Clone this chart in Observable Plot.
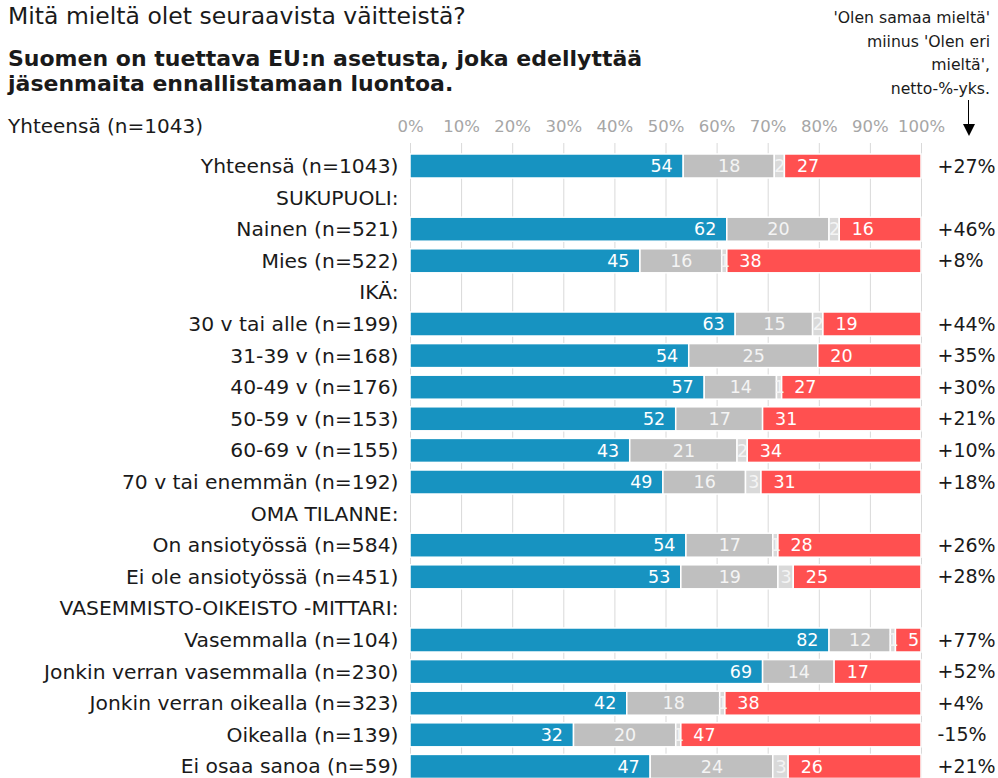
<!DOCTYPE html>
<html>
<head>
<meta charset="utf-8">
<script src="https://cdn.jsdelivr.net/npm/d3@7"></script>
<script src="https://cdn.jsdelivr.net/npm/@observablehq/plot@0.6"></script>
<style>
  html, body { margin: 0; padding: 0; background: #fff; overflow: hidden; }
  #wrap { position: relative; width: 998px; height: 778px; overflow: hidden; font-family: "DejaVu Sans", Verdana, sans-serif; color: #1a1a1a; }
  .abs { position: absolute; white-space: nowrap; z-index: 2; }
  #title { left: 8px; top: 2px; font-size: 23.5px; line-height: 28px; }
  #subtitle { left: 8px; top: 47px; font-size: 22px; line-height: 24.5px; font-weight: bold; }
  #total { left: 8px; top: 113px; font-size: 20px; line-height: 26px; }
  #note { right: 8px; top: 6px; font-size: 15.7px; line-height: 23.6px; text-align: right; }
  #arrowLine { left: 968px; top: 100px; width: 0; height: 26px; border-left: 1.5px solid #000; }
  #arrowHead { left: 963px; top: 124px; width: 0; height: 0; border-left: 6px solid transparent; border-right: 6px solid transparent; border-top: 12px solid #000; }
  #chart { position: absolute; left: 0; top: 100px; z-index: 1; }
</style>
</head>
<body>
<div id="wrap">
  <div id="chart"></div>
  <div class="abs" id="title">Mitä mieltä olet seuraavista väitteistä?</div>
  <div class="abs" id="subtitle">Suomen on tuettava EU:n asetusta, joka edellyttää<br>jäsenmaita ennallistamaan luontoa.</div>
  <div class="abs" id="total">Yhteensä (n=1043)</div>
  <div class="abs" id="note">'Olen samaa mieltä'<br>miinus 'Olen eri<br>mieltä',<br>netto-%-yks.</div>
  <div class="abs" id="arrowLine"></div>
  <div class="abs" id="arrowHead"></div>
</div>
<script>
const rowLabels = [
  "Yhteensä (n=1043)",
  "SUKUPUOLI:",
  "Nainen (n=521)",
  "Mies (n=522)",
  "IKÄ:",
  "30 v tai alle (n=199)",
  "31-39 v (n=168)",
  "40-49 v (n=176)",
  "50-59 v (n=153)",
  "60-69 v (n=155)",
  "70 v tai enemmän (n=192)",
  "OMA TILANNE:",
  "On ansiotyössä (n=584)",
  "Ei ole ansiotyössä (n=451)",
  "VASEMMISTO-OIKEISTO -MITTARI:",
  "Vasemmalla (n=104)",
  "Jonkin verran vasemmalla (n=230)",
  "Jonkin verran oikealla (n=323)",
  "Oikealla (n=139)",
  "Ei osaa sanoa (n=59)"
];
const agree    = [54, null, 62, 45, null, 63, 54, 57, 52, 43, 49, null, 54, 53, null, 82, 69, 42, 32, 47];
const neutral  = [18, null, 20, 16, null, 15, 25, 14, 17, 21, 16, null, 17, 19, null, 12, 14, 18, 20, 24];
const dontKnow = [ 2, null,  2,  1, null,  2,  0,  1,  0,  2,  3, null,  1,  3, null,  1,  0,  1,  1,  3];
const disagree = [27, null, 16, 38, null, 19, 20, 27, 31, 34, 31, null, 28, 25, null,  5, 17, 38, 47, 26];
const netLabels = ["+27%", null, "+46%", "+8%", null, "+44%", "+35%", "+30%", "+21%", "+10%", "+18%", null, "+26%", "+28%", null, "+77%", "+52%", "+4%", "-15%", "+21%"];
const tickValues = [0, 10, 20, 30, 40, 50, 60, 70, 80, 90, 100];

const cats = ["agree", "neutral", "dk", "disagree"];
const catColors = ["#1793C1", "#BFBFBF", "#D9D9D9", "#FF5050"];
const series = {agree: agree, neutral: neutral, dk: dontKnow, disagree: disagree};

const table = rowLabels.flatMap((r, i) => agree[i] == null ? [] :
  cats.map(c => ({row: r, cat: c, value: series[c][i]})));
const netData = rowLabels.map((r, i) => ({row: r, net: netLabels[i]})).filter(d => d.net != null);

const stackOpts = {x: "value", y: "row", z: "cat", order: cats, offset: "normalize"};

const chart = Plot.plot({
  width: 998,
  height: 686,
  marginLeft: 410,
  marginRight: 77,
  marginTop: 46.4,
  marginBottom: 0,
  style: {fontFamily: "DejaVu Sans, Verdana, sans-serif", background: "transparent"},
  x: {domain: [0, 1], axis: null},
  y: {domain: rowLabels, padding: 0.24, round: false, axis: null},
  color: {domain: cats, range: catColors},
  marks: [
    Plot.ruleX(tickValues, {x: d => d / 100, stroke: "#D9D9D9", strokeWidth: 1, insetTop: -3.4}),
    Plot.text(tickValues, {x: d => d / 100, frameAnchor: "top", lineAnchor: "middle", dy: -20, text: d => d + "%", fill: "#A6A6A6", fontSize: 16.5}),
    Plot.barX(table, Plot.stackX({...stackOpts, fill: "cat", stroke: "white", strokeWidth: 1.5})),
    Plot.text(table, Plot.stackX2({...stackOpts,
      text: d => d.cat === "agree" && d.value > 0 ? String(d.value) : null,
      textAnchor: "end", dx: -11, fill: "white", fontSize: 17.5})),
    Plot.text(table, Plot.stackX({...stackOpts,
      text: d => (d.cat === "neutral" || d.cat === "dk") && d.value > 0 ? String(d.value) : null,
      textAnchor: "middle", fill: "#F4F4F4", fontSize: 17.5})),
    Plot.text(table, Plot.stackX1({...stackOpts,
      text: d => d.cat === "disagree" && d.value > 0 ? String(d.value) : null,
      textAnchor: "start", dx: 12, fill: "white", fontSize: 17.5})),
    Plot.text(rowLabels, {y: d => d, text: d => d, frameAnchor: "left", textAnchor: "end", dx: -12, fill: "#1a1a1a", fontSize: 20.3}),
    Plot.text(netData, {y: "row", text: "net", frameAnchor: "right", textAnchor: "start", dx: 16, fill: "#1a1a1a", fontSize: 19})
  ]
});
document.getElementById("chart").appendChild(chart);
</script>
</body>
</html>
